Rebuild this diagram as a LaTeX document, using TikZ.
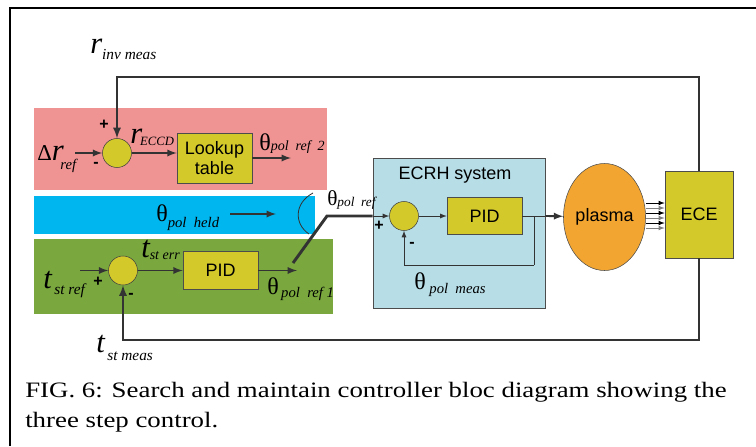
\documentclass[tikz,border=0pt]{standalone}
\usepackage{fontspec}
\setmainfont{Liberation Serif}
\setsansfont{Liberation Sans}
\newfontfamily\capfont{Liberation Serif}[FakeStretch=1.22]
\usetikzlibrary{shapes.geometric}

\definecolor{pinkband}{RGB}{240,147,147}
\definecolor{cyanband}{RGB}{0,182,239}
\definecolor{greenband}{RGB}{122,168,63}
\definecolor{ecrhblue}{RGB}{183,221,231}
\definecolor{blockyellow}{RGB}{211,201,43}
\definecolor{plasmaorange}{RGB}{242,165,49}
\definecolor{wirecol}{RGB}{51,51,51}

% signal names: big italic letter with a lowered italic subscript
\newcommand{\sgnl}[3][5pt]{{\fontsize{23}{25}\selectfont\itshape #2}\raisebox{-#1}{\fontsize{11.5}{13}\selectfont\itshape #3}}
\newcommand{\angl}[2][4pt]{{\fontsize{18}{20}\selectfont θ}\raisebox{-#1}{\fontsize{11}{13}\selectfont\itshape #2}}

\tikzset{
  block/.style={draw=black!70, fill=blockyellow, align=center, inner sep=0pt,
    font=\sffamily\fontsize{13.5}{15.5}\selectfont},
  sumpt/.style={circle, draw=black!75, fill=blockyellow, minimum size=21.75pt, inner sep=0pt},
  wire/.style={draw=wirecol, line width=1.4pt},
  thinwire/.style={draw=wirecol, line width=0.7pt},
  fbwire/.style={draw=wirecol, line width=1.7pt},
  sign/.style={font=\sffamily\bfseries\fontsize{12}{12}\selectfont, inner sep=0pt}
}

\begin{document}
\begin{tikzpicture}[x=0.75pt,y=-0.75pt,>=latex]
  \useasboundingbox (0,0) rectangle (756,446);
  % Frame and bands
  \draw[line width=2.2pt] (10,446) -- (10,8) -- (756,8);
  \fill[pinkband] (34,108) rectangle (327,190);
  \fill[cyanband] (34,196) rectangle (315,234);
  \fill[greenband] (34,239) rectangle (333,314);

  % Nodes
  \node[draw=black!70, fill=ecrhblue, minimum width=129pt, minimum height=112.5pt, inner sep=0pt] (ECRH) at (459,233) {};
  \node[font=\sffamily\fontsize{13.5}{15}\selectfont] (ECRHLbl) at (455,175) {ECRH system};
  \node[sumpt] (SumR) at (117,153) {};
  \node[block, minimum width=56.25pt, minimum height=37.5pt] (Lookup) at (214.5,158) {Lookup\\table};
  \node[sumpt] (SumG) at (123,270.5) {};
  \node[block, minimum width=56.25pt, minimum height=28.5pt] (PIDG) at (220.5,270.5) {PID};
  \node[sumpt] (SumE) at (404,216) {};
  \node[block, minimum width=56.25pt, minimum height=27.75pt] (PIDE) at (484.5,216) {PID};
  \node[ellipse, draw=black!70, fill=plasmaorange, minimum width=47.25pt, minimum height=80.25pt,
    inner sep=0pt, font=\sffamily\fontsize{13.5}{15}\selectfont] (Plasma) at (604.5,217) {plasma};
  \node[block, minimum width=51pt, minimum height=65.25pt] (ECE) at (699,214.5) {ECE};

  \coordinate (DeltaIn) at (75,153);
  \coordinate (RefTwoOut) at (291,158);
  \coordinate (TstIn) at (80,270.5);
  \coordinate (RefOneOut) at (297,270.5);
  \coordinate (RTop) at (699,77);
  \coordinate (TBottom) at (699,340);
  \coordinate (HeldFrom) at (230,214);
  \coordinate (HeldTo) at (276,214);
  \coordinate (SwPivot) at (293,263);
  \coordinate (SwTip) at (327,216);
  \coordinate (FbTap) at (534,216);
  \coordinate (FbCorner) at (534,265);

  % Labels
  \node[anchor=base west, inner sep=0pt] (RinvLbl) at (90,53) {\sgnl{r}{inv meas}};
  \node[anchor=base west, inner sep=0pt] (DeltaLbl) at (37,160) {{\fontsize{17}{20}\selectfont Δ}{\fontsize{23}{25}\selectfont\itshape r}\kern-2.5pt\raisebox{-7pt}{\fontsize{11}{13}\selectfont\itshape ref}};
  \node[anchor=base west, inner sep=0pt] (EccdLbl) at (130,143) {{\fontsize{23}{25}\selectfont\itshape r}\kern-1.5pt\raisebox{-1.5pt}{\fontsize{9.5}{11}\selectfont\itshape ECCD}};
  \node[anchor=base west, inner sep=0pt] (RefTwoLbl) at (259,150) {\angl[0pt]{\fontsize{10.5}{12}\selectfont pol\ \ ref\ \ 2}};
  \node[anchor=base west, inner sep=0pt] (TerrLbl) at (141,257) {\sgnl[2pt]{t}{\fontsize{10.5}{12}\selectfont st err}};
  \node[anchor=base west, inner sep=0pt] (TstRefLbl) at (43,288) {\sgnl{t}{\,st ref}};
  \node[anchor=base west, inner sep=0pt] (RefOneLbl) at (267,294) {\angl[2.5pt]{\,pol\ \ ref\ 1}};
  \node[anchor=base west, inner sep=0pt] (TmeasLbl) at (96,352) {\sgnl[6pt]{t}{\,st meas}};
  \node[anchor=base west, inner sep=0pt] (HeldLbl) at (156,221) {\angl[5pt]{pol\ \ held}};
  \node[anchor=base west, inner sep=0pt] (PolRefLbl) at (327,205) {{\fontsize{16}{18}\selectfont θ}\raisebox{-1pt}{\fontsize{10}{12}\selectfont\itshape pol\ \ ref}};
  \node[anchor=base west, inner sep=0pt] (PolMeasLbl) at (414,289) {\angl[3pt]{\ pol\ \ meas}};
  \node[sign] (PlusR) at (104,125) {+};
  \node[sign] (MinusR) at (96,165) {-};
  \node[sign] (PlusG) at (98,282) {+};
  \node[sign] (MinusG) at (131,296) {-};
  \node[sign] (PlusE) at (379,226) {+};
  \node[sign] (MinusE) at (412,245) {-};

  % Arrows
  \draw[wire,->] (DeltaIn) -- (SumR);
  \draw[wire,->] (SumR) -- (SumR -| Lookup.west);
  \draw[wire,->] (Lookup) -- (RefTwoOut);
  \draw[fbwire,->] (ECE) -- (RTop) -| (SumR);
  \draw[fbwire,->] (ECE) -- (TBottom) -| (SumG);
  \draw[wire,->] (TstIn) -- (SumG);
  \draw[wire,->] (SumG) -- (PIDG);
  \draw[wire,->] (PIDG) -- (RefOneOut);
  \draw[wire,->] (HeldFrom) -- (HeldTo);
  \draw[black!80, line width=0.6pt] (313,193) .. controls (294,203) and (294,224) .. (309,234);
  \draw[wirecol, line width=2.2pt] (SwPivot) -- (SwTip) -- (SwTip -| ECRH.west);
  \draw[thinwire,->] (SwTip -| ECRH.west) -- (SumE);
  \draw[thinwire,->] (SumE) -- (PIDE);
  \draw[thinwire] (PIDE) -- (PIDE -| ECRH.east);
  \draw[wire,->] (PIDE -| ECRH.east) -- (Plasma);
  \draw[thinwire] (FbTap) -- (FbCorner);
  \draw[thinwire,->] (FbCorner) -| (SumE);
  \foreach \y/\c in {203/black,208/gray,213/black,218/gray,223/black,228/gray}
    \draw[\c, line width=0.6pt, ->] (Plasma.east |- 0,\y) -- (ECE.west |- 0,\y);

  % Caption
  \node[anchor=base west, align=left, inner sep=0pt, font=\capfont\fontsize{16.5}{22.5}\selectfont] (Caption) at (25,427)
    {FIG. 6: Search and maintain controller bloc diagram showing the\\three step control.};
\end{tikzpicture}
\end{document}
